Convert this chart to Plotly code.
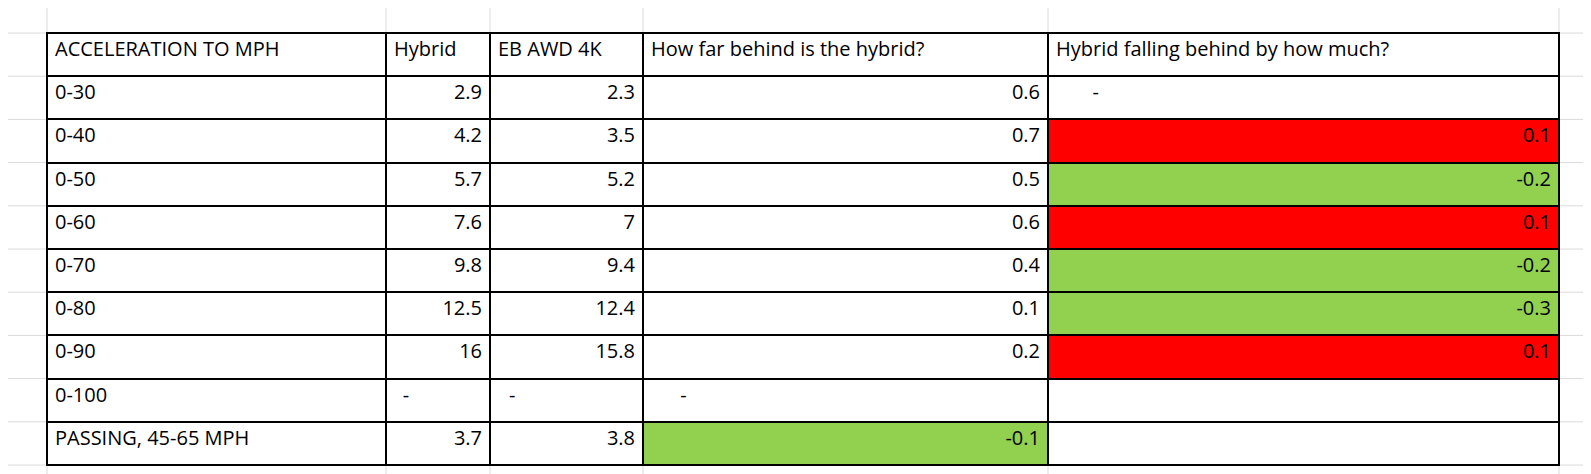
import plotly.graph_objects as go

# Data
labels = ["0-30", "0-40", "0-50", "0-60", "0-70", "0-80", "0-90", "0-100", "PASSING, 45-65 MPH"]
hybrid = ["2.9", "4.2", "5.7", "7.6", "9.8", "12.5", "16", "-", "3.7"]
eb_awd = ["2.3", "3.5", "5.2", "7", "9.4", "12.4", "15.8", "-", "3.8"]
behind = ["0.6", "0.7", "0.5", "0.6", "0.4", "0.1", "0.2", "-", "-0.1"]
falling = ["-", "0.1", "-0.2", "0.1", "-0.2", "-0.3", "0.1", "", ""]
headers = ["ACCELERATION TO MPH", "Hybrid", "EB AWD 4K",
           "How far behind is the hybrid?", "Hybrid falling behind by how much?"]

RED, GREEN, WHITE = "#ff0000", "#92d050", "white"

def colour(v):
    if v in ("", "-"):
        return WHITE
    return RED if float(v) > 0 else GREEN

W, H = 1591, 474
xs = [39, 378, 482, 635, 1040, 1551]
widths = [xs[i + 1] - xs[i] for i in range(5)]
top, row_h = 25, 43.2

# text cells ("-") sit on the left in Excel; plotly aligns per column, so pad them
def shown(col, w):
    pad = int((w - 22) / 5.6)
    return [v + "\u00a0" * pad if v == "-" else v for v in col]

cols = [labels] + [shown(c, w) for c, w in zip([hybrid, eb_awd, behind, falling], widths[1:])]
fills = [[WHITE] * len(labels)] * 3 + [
    [GREEN if v not in ("", "-") and float(v) < 0 else WHITE for v in behind],
    [colour(v) for v in falling]]

font = dict(family="Open Sans", size=20, color="black")
fig = go.Figure(go.Table(
    domain=dict(x=[xs[0] / W, xs[-1] / W], y=[0, 1 - top / H]),
    columnwidth=widths,
    header=dict(values=headers, align="left", height=row_h,
                line=dict(color="black", width=2), fill_color=WHITE, font=font),
    cells=dict(values=cols, align=["left", "right", "right", "right", "right"],
               height=row_h, fill_color=fills,
               line=dict(color="black", width=2), font=font),
))

# faint spreadsheet gridlines behind the table
shapes = []
y = top - row_h
while y < H:
    shapes.append(dict(type="line", xref="paper", yref="paper", x0=0, x1=1,
                       y0=1 - y / H, y1=1 - y / H, line=dict(color="#dadada", width=1), layer="below"))
    y += row_h
for x in xs:
    shapes.append(dict(type="line", xref="paper", yref="paper", x0=x / W, x1=x / W,
                       y0=0, y1=1, line=dict(color="#dadada", width=1), layer="below"))

fig.update_layout(width=W, height=H, margin=dict(l=0, r=0, t=0, b=0),
                  paper_bgcolor="white", shapes=shapes)
fig.write_html("out.html")
